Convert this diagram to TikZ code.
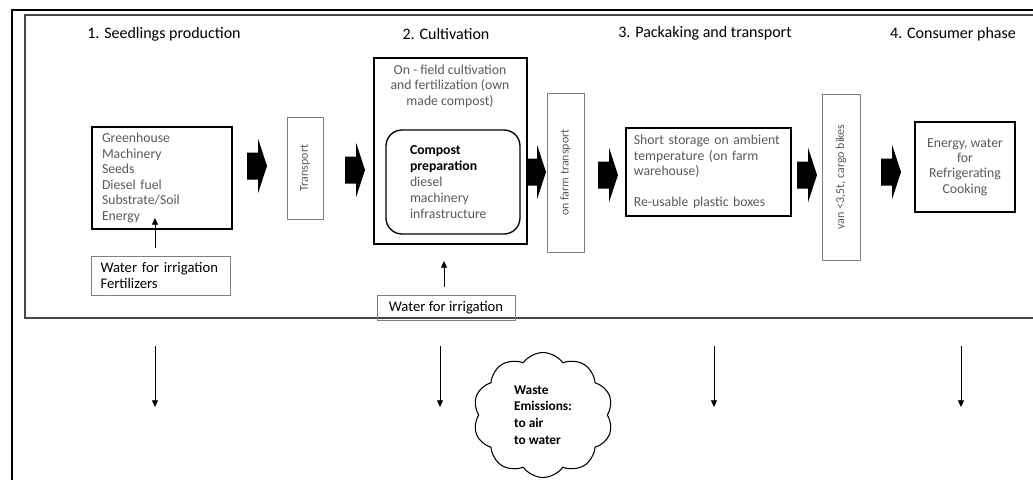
\documentclass[tikz,border=0pt]{standalone}
\usepackage{fontspec}
\setmainfont{Carlito}
\usepackage{tikz}
\usetikzlibrary{arrows.meta,shapes.symbols}
\definecolor{bodytext}{RGB}{89,89,89}
\definecolor{framegrey}{RGB}{70,70,70}

\begin{document}
\begin{tikzpicture}[x=0.75pt, y=-0.75pt,
  sz/.style 2 args={minimum width=#1*0.75pt, minimum height=#2*0.75pt},
  phase/.style={font=\fontsize{12}{14}\selectfont, text=black},
  box/.style={draw=black, line width=1pt, inner sep=0, text=bodytext,
              font=\fontsize{10.3}{11.6}\selectfont},
  lightbox/.style={draw=black!50, line width=0.6pt, inner sep=0},
  vlabel/.style={lightbox, rotate=90, text=bodytext, font=\fontsize{9}{10}\selectfont},
  waterbox/.style={lightbox, text=black, font=\fontsize{11}{11.5}\selectfont},
  flow/.style={-{Triangle[length=5pt, width=4.5pt]}, line width=0.6pt},
]
\useasboundingbox (0,0) rectangle (1033,479);
% page frames, both run off the right edge
\draw[line width=1.5pt] (1040,10) -- (12,10) -- (12,490);
\draw[framegrey, line width=1.2pt] (1040,15) -- (25,15) -- (25,318) -- (1040,318);

% phase headings
\node[phase] (h1) at (164,34) {1. Seedlings production};
\node[phase] (h2) at (446,34) {2. Cultivation};
\node[phase] (h3) at (705,33) {3. Packaking and transport};
\node[phase] (h4) at (953,34) {4. Consumer phase};

% ---- 1. seedlings
\node[box, sz={140}{102}, text width=90pt, align=left] (seeds) at (162,178)
  {Greenhouse\\Machinery\\Seeds\\Diesel fuel\\Substrate/Soil\\Energy};
\node[waterbox, sz={139}{39}, text width=90pt, align=left] (water1) at (160.5,275.5)
  {Water for irrigation\\Fertilizers};
\coordinate (w1from) at (155,248);
\coordinate (w1to) at (155,218);
\draw[flow] (w1from) -- (w1to);
\node[vlabel, sz={102}{36}] (trans) at (305,168) {Transport};

% ---- 2. cultivation
\node[box, sz={153}{186}] (cult) at (450.5,151) {};
\node[text=bodytext, font=\fontsize{10.3}{11.6}\selectfont, align=center] (culttxt) at (450,86)
  {On - field cultivation\\and fertilization (own\\made compost)};
\node[box, rounded corners=12pt, sz={134}{104}, text width=64.5pt, align=left,
      font=\fontsize{10.3}{12}\selectfont] (compost) at (453,182)
  {{\bfseries\color{black}Compost}\\{\bfseries\color{black}preparation}\\diesel\\machinery\\infrastructure};
\node[waterbox, sz={138}{25}] (water2) at (446,307.5) {Water for irrigation};
\coordinate (w2from) at (444,287);
\coordinate (w2to) at (444,261);
\draw[flow] (w2from) -- (w2to);
\node[vlabel, sz={159}{37}] (farmtr) at (565.5,172.5) {on farm transport};

% ---- 3. packaging and transport
\node[box, sz={165}{88}, text width=112pt, align=left] (store) at (708.5,172)
  {Short storage on ambient\\temperature (on farm\\warehouse)\\[11.6pt]Re-usable plastic boxes};
\node[vlabel, sz={166}{38}] (van) at (841,177) {van <3,5t, cargo bikes};

% ---- 4. consumer
\node[box, sz={100}{90}, align=center] (consume) at (965,167)
  {Energy, water\\for\\Refrigerating\\Cooking};

% block arrows between the stages (left end / middle height)
\foreach \xa/\ya in {247/166, 345/170, 526/172, 598/175, 797/175, 881/172} {
  \fill (\xa,\ya-13.5) -- ++(11,0) -- ++(0,-14) -- (\xa+20,\ya)
    -- (\xa+11,\ya+27.5) -- ++(0,-14) -- (\xa,\ya+13.5) -- cycle;
}

% outputs of every stage
\foreach \xd [count=\k] in {155,440,714,961} {
  \coordinate (out\k top) at (\xd,346);
  \coordinate (out\k bot) at (\xd,407);
  \draw[flow] (out\k top) -- (out\k bot);
}
\node[cloud, draw, line width=0.8pt, cloud puffs=10, cloud puff arc=110, aspect=1.1,
      sz={140}{125}, inner sep=0, align=left,
      font=\bfseries\fontsize{10}{12.5}\selectfont] (waste) at (543,415)
  {Waste\\Emissions:\\to air\\to water};
\end{tikzpicture}
\end{document}
